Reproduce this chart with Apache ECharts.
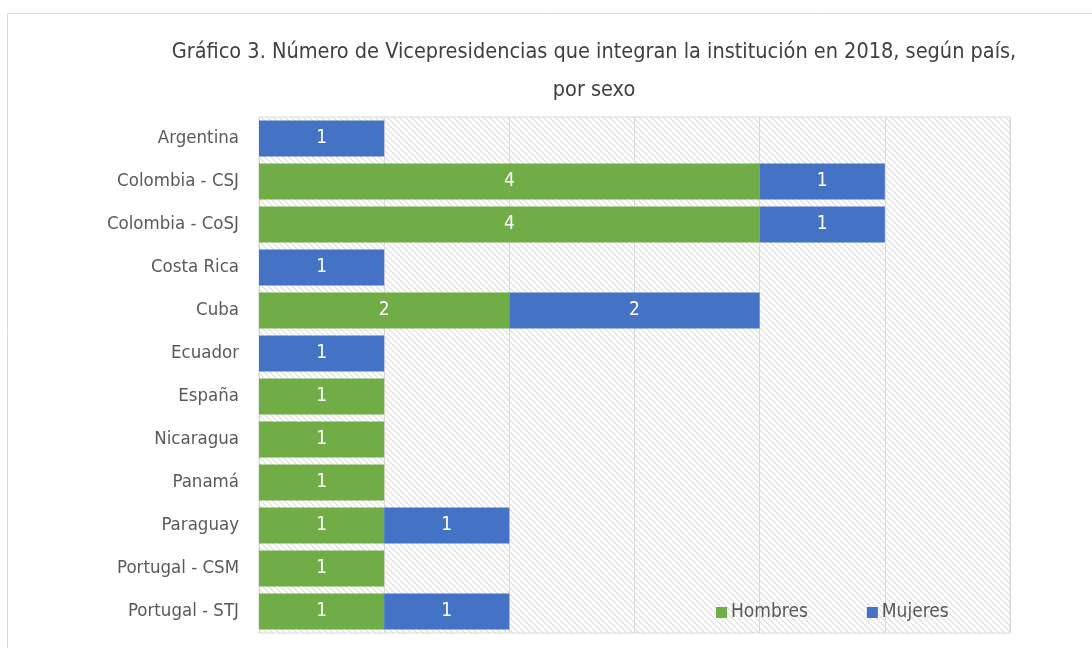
<!DOCTYPE html>
<html>
<head>
<meta charset="utf-8">
<script src="https://cdn.jsdelivr.net/npm/echarts@6/dist/echarts.min.js"></script>
<style>
  html, body { margin: 0; padding: 0; background: #fff; }
  #chart { width: 1092px; height: 648px; }
</style>
</head>
<body>
<div id="chart"></div>
<script>
// Datos
const paises = ["Argentina", "Colombia - CSJ", "Colombia - CoSJ", "Costa Rica", "Cuba", "Ecuador",
  "España", "Nicaragua", "Panamá", "Paraguay", "Portugal - CSM", "Portugal - STJ"];
const hombres = [null, 4, 4, null, 2, null, 1, 1, 1, 1, 1, 1];
const mujeres = [1, 1, 1, 1, 2, 1, null, null, null, 1, null, 1];

const FONT = '"DejaVu Sans Condensed", "Liberation Sans Narrow", sans-serif';

// Patrón rayado del fondo
function hatch() {
  const c = document.createElement("canvas");
  c.width = 6; c.height = 6;
  const ctx = c.getContext("2d");
  ctx.fillStyle = "#ffffff";
  ctx.fillRect(0, 0, 6, 6);
  ctx.strokeStyle = "#dcdcdc";
  ctx.lineWidth = 1.1;
  ctx.beginPath();
  ctx.moveTo(0, 0); ctx.lineTo(6, 6);
  ctx.moveTo(-3, 3); ctx.lineTo(3, 9);
  ctx.moveTo(3, -3); ctx.lineTo(9, 3);
  ctx.stroke();
  return c;
}

function serie(name, data, color) {
  return {
    name,
    type: "bar",
    stack: "total",
    data,
    barCategoryGap: "16%",
    itemStyle: { color },
    label: {
      show: true,
      position: "inside",
      color: "#ffffff",
      fontFamily: FONT,
      fontSize: 19
    }
  };
}

const chart = echarts.init(document.getElementById("chart"));
chart.setOption({
  animation: false,
  title: {
    text: "Gráfico 3. Número de Vicepresidencias que integran la institución en 2018, según país,\npor sexo",
    left: 589,
    textAlign: "center",
    top: 28,
    textStyle: { fontFamily: FONT, fontSize: 21.5, fontWeight: "normal", color: "#404040", lineHeight: 38 }
  },
  graphic: [{
    type: "rect",
    shape: { x: 7.5, y: 13.5, width: 1200, height: 800 },
    style: { fill: null, stroke: "#d9d9d9", lineWidth: 1 },
    silent: true
  }],
  legend: {
    data: ["Hombres", "Mujeres"],
    left: 716,
    top: 603,
    itemWidth: 11,
    itemHeight: 11,
    itemGap: 59,
    icon: "rect",
    padding: 0,
    textStyle: { fontFamily: FONT, fontSize: 19, color: "#595959", padding: [0, 0, 0, -1] }
  },
  grid: {
    left: 259, right: 82, top: 117, bottom: 15,
    show: true,
    borderColor: "#d9d9d9",
    borderWidth: 1,
    backgroundColor: { image: hatch(), repeat: "repeat" }
  },
  xAxis: {
    type: "value",
    min: 0, max: 6, interval: 1,
    axisLabel: { show: false },
    axisLine: { show: false },
    axisTick: { show: false },
    splitLine: { lineStyle: { color: "#d9d9d9", width: 1 } }
  },
  yAxis: {
    type: "category",
    inverse: true,
    data: paises,
    axisLine: { show: false },
    axisTick: { show: false },
    axisLabel: { fontFamily: FONT, fontSize: 18.5, color: "#595959", margin: 20 }
  },
  series: [
    serie("Hombres", hombres, "#70ad47"),
    serie("Mujeres", mujeres, "#4472c4")
  ]
});
</script>
</body>
</html>
